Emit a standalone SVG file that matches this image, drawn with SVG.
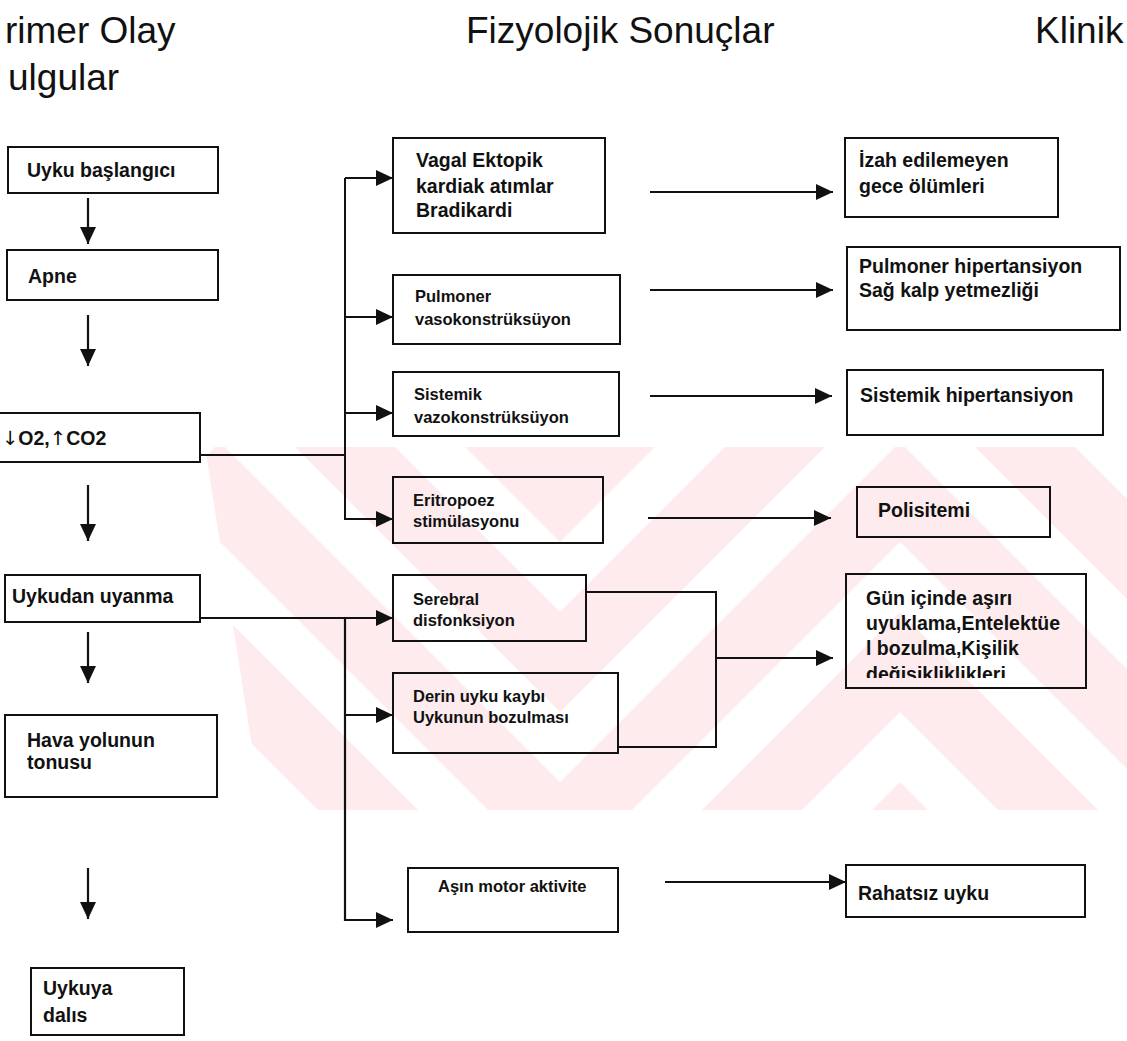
<svg xmlns="http://www.w3.org/2000/svg" width="1127" height="1041" viewBox="0 0 1127 1041">
<defs>
<style>
.hdr{font-family:"Liberation Sans",Arial,sans-serif;font-size:37px;fill:#111}
.t{font-family:"Liberation Sans",Arial,sans-serif;font-size:19.5px;font-weight:bold;fill:#111}
.s{font-family:"Liberation Sans",Arial,sans-serif;font-size:16.5px;font-weight:bold;fill:#111}
.ar{font-family:"DejaVu Sans",sans-serif;font-weight:normal}
.box{fill:none;stroke:#111;stroke-width:2}
.ln{fill:none;stroke:#111;stroke-width:2}
.arr{fill:none;stroke:#111;stroke-width:2.2;marker-end:url(#ah)}
.wm{fill:#fdebee}
</style>
<marker id="ah" markerUnits="userSpaceOnUse" markerWidth="18" markerHeight="16" refX="17" refY="8" orient="auto"><path d="M0,0 L17,8 L0,16 z" fill="#111"/></marker>
<clipPath id="wmclip"><polygon points="205,447 1127,447 1127,810 262,810"/></clipPath>
<clipPath id="gclip"><rect x="840" y="570" width="260" height="108"/></clipPath>
</defs>
<rect width="1127" height="1041" fill="#fff"/>
<g id="watermark" clip-path="url(#wmclip)">
<polygon class="wm" points="-120,1122 220,782 560,1122 900,782 1240,1122 1240,1222 900,882 560,1222 220,882 -120,1222"/>
<polygon class="wm" points="-120,952 220,612 560,952 900,612 1240,952 1240,1052 900,712 560,1052 220,712 -120,1052"/>
<polygon class="wm" points="-120,782 220,442 560,782 900,442 1240,782 1240,882 900,542 560,882 220,542 -120,882"/>
<polygon class="wm" points="-120,612 220,272 560,612 900,272 1240,612 1240,712 900,372 560,712 220,372 -120,712"/>
<polygon class="wm" points="-120,442 220,102 560,442 900,102 1240,442 1240,542 900,202 560,542 220,202 -120,542"/>
<polygon class="wm" points="-120,272 220,-68 560,272 900,-68 1240,272 1240,372 900,32 560,372 220,32 -120,372"/>
</g>
<g id="headers">
<text class="hdr" x="5" y="43">rimer Olay</text>
<text class="hdr" x="8" y="90">ulgular</text>
<text class="hdr" x="466" y="43">Fizyolojik Sonuçlar</text>
<text class="hdr" x="1035" y="43">Klinik</text>
</g>
<g id="connectors">
<line class="arr" x1="88" y1="198" x2="88" y2="244"/>
<line class="arr" x1="88" y1="315" x2="88" y2="366"/>
<line class="arr" x1="88" y1="485" x2="88" y2="541"/>
<line class="arr" x1="88" y1="632" x2="88" y2="683"/>
<line class="arr" x1="88" y1="868" x2="88" y2="919"/>
<polyline class="ln" points="200,455 345,455"/>
<polyline class="ln" points="345,178 345,519"/>
<line class="arr" x1="345" y1="178" x2="393" y2="178"/>
<line class="arr" x1="345" y1="317" x2="393" y2="317"/>
<line class="arr" x1="345" y1="413" x2="393" y2="413"/>
<line class="arr" x1="344" y1="519" x2="393" y2="519"/>
<line class="arr" x1="200" y1="618" x2="393" y2="618"/>
<polyline class="arr" points="345,618 345,920 393,920"/>
<line class="arr" x1="345" y1="715" x2="393" y2="715"/>
<line class="arr" x1="650" y1="192" x2="833" y2="192"/>
<line class="arr" x1="650" y1="290" x2="833" y2="290"/>
<line class="arr" x1="650" y1="396" x2="832" y2="396"/>
<line class="arr" x1="648" y1="518" x2="831" y2="518"/>
<polyline class="ln" points="586,592 716,592 716,747 618,747"/>
<line class="arr" x1="716" y1="658" x2="833" y2="658"/>
<line class="arr" x1="665" y1="882" x2="846" y2="882"/>
</g>
<g id="n-uyku-baslangici"><rect class="box" x="8" y="147" width="210" height="46"/><text class="t" x="27" y="177">Uyku başlangıcı</text></g>
<g id="n-apne"><rect class="box" x="7" y="250" width="211" height="50"/><text class="t" x="28" y="283">Apne</text></g>
<g id="n-o2"><rect class="box" x="-5" y="413" width="205" height="49"/><text class="t" x="2" y="445" font-weight="normal"><tspan class="ar">↓</tspan>O2,<tspan class="ar">↑</tspan>CO2</text></g>
<g id="n-uykudan"><rect class="box" x="5" y="575" width="195" height="47"/><text class="t" x="12" y="603">Uykudan uyanma</text></g>
<g id="n-hava"><rect class="box" x="5" y="715" width="212" height="82"/><text class="t" x="27" y="747">Hava yolunun</text><text class="t" x="27" y="769">tonusu</text></g>
<g id="n-uykuya"><rect class="box" x="31" y="968" width="153" height="67"/><text class="t" x="43" y="995">Uykuya</text><text class="t" x="43" y="1022">dalıs</text></g>
<g id="n-vagal"><rect class="box" x="393" y="138" width="212" height="95"/><text class="t" x="416" y="167">Vagal Ektopik</text><text class="t" x="416" y="193">kardiak atımlar</text><text class="t" x="416" y="217">Bradikardi</text></g>
<g id="n-pulm"><rect class="box" x="393" y="275" width="227" height="69"/><text class="s" x="415" y="302">Pulmoner</text><text class="s" x="415" y="325">vasokonstrüksüyon</text></g>
<g id="n-sist"><rect class="box" x="393" y="372" width="226" height="64"/><text class="s" x="414" y="400">Sistemik</text><text class="s" x="414" y="423">vazokonstrüksüyon</text></g>
<g id="n-erit"><rect class="box" x="393" y="477" width="210" height="66"/><text class="s" x="413" y="506">Eritropoez</text><text class="s" x="413" y="527">stimülasyonu</text></g>
<g id="n-sereb"><rect class="box" x="393" y="575" width="193" height="66"/><text class="s" x="413" y="605">Serebral</text><text class="s" x="413" y="626">disfonksiyon</text></g>
<g id="n-derin"><rect class="box" x="393" y="673" width="225" height="80"/><text class="s" x="413" y="702" font-size="17">Derin uyku kaybı</text><text class="s" x="413" y="723" font-size="17">Uykunun bozulması</text></g>
<g id="n-asin"><rect class="box" x="408" y="868" width="210" height="64"/><text class="s" x="438" y="892" font-size="17.5">Aşın motor aktivite</text></g>
<g id="n-izah"><rect class="box" x="845" y="138" width="213" height="79"/><text class="t" x="859" y="167">İzah edilemeyen</text><text class="t" x="859" y="193">gece ölümleri</text></g>
<g id="n-pulmht"><rect class="box" x="847" y="247" width="273" height="83"/><text class="t" x="859" y="273">Pulmoner hipertansiyon</text><text class="t" x="859" y="297">Sağ kalp yetmezliği</text></g>
<g id="n-sistht"><rect class="box" x="847" y="370" width="256" height="65"/><text class="t" x="860" y="402">Sistemik hipertansiyon</text></g>
<g id="n-polis"><rect class="box" x="857" y="487" width="193" height="50"/><text class="t" x="878" y="517">Polisitemi</text></g>
<g id="n-gun"><rect class="box" x="846" y="574" width="240" height="114"/><text class="t" x="866" y="605">Gün içinde aşırı</text><text class="t" x="866" y="630">uyuklama,Entelektüe</text><text class="t" x="866" y="655">l bozulma,Kişilik</text><text class="t" x="866" y="681" clip-path="url(#gclip)">değisikliklikleri</text></g>
<g id="n-rahatsiz"><rect class="box" x="846" y="865" width="239" height="52"/><text class="t" x="858" y="900">Rahatsız uyku</text></g>
</svg>
